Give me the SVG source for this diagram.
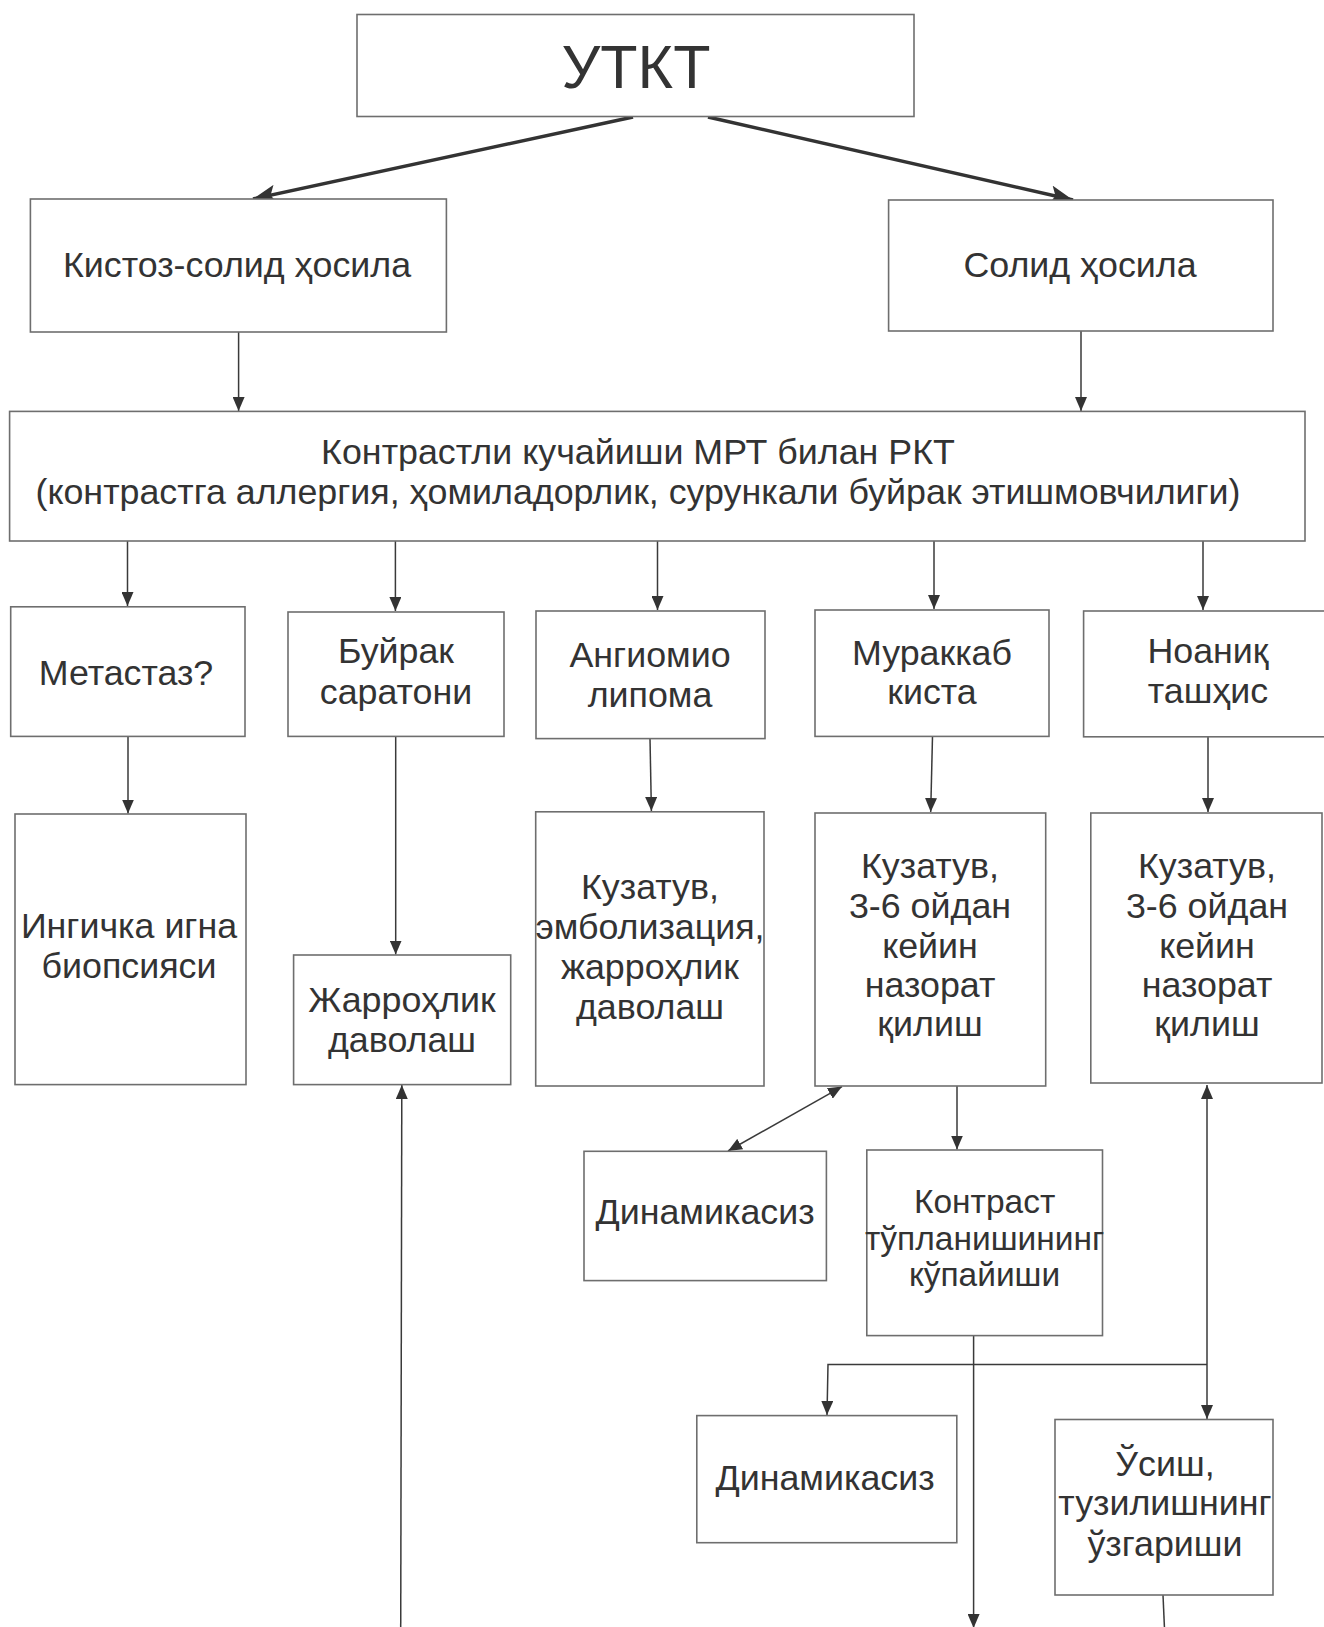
<svg xmlns="http://www.w3.org/2000/svg" width="1324" height="1627" viewBox="0 0 1324 1627">
<style>
.box{fill:#fff;stroke:#6e6e6e;stroke-width:1.6}
.t{font-family:"Liberation Sans",Arial,sans-serif;font-size:35.8px;fill:#333;text-anchor:middle}
.c{fill:none;stroke:#3a3a3a;stroke-width:1.5}
.ct{fill:none;stroke:#333;stroke-width:3.5}
</style>
<defs>
<marker id="a" viewBox="0 0 14 12" refX="14" refY="6" markerWidth="14" markerHeight="12" markerUnits="userSpaceOnUse" orient="auto-start-reverse"><path d="M0,0 L14,6 L0,12 z" fill="#333"/></marker>
<marker id="b" viewBox="0 0 23 19" refX="23" refY="9.5" markerWidth="23" markerHeight="19" markerUnits="userSpaceOnUse" orient="auto"><path d="M0,0 L23,9.5 L0,19 L5,9.5 z" fill="#333"/></marker>
</defs>
<rect width="1324" height="1627" fill="#fff"/>

<g id="connectors">
<line class="ct" x1="633" y1="117" x2="253" y2="199" marker-end="url(#b)"/>
<line class="ct" x1="708" y1="117" x2="1073" y2="200" marker-end="url(#b)"/>
<line class="c" x1="238.6" y1="332" x2="238.6" y2="411" marker-end="url(#a)"/>
<line class="c" x1="1081" y1="331" x2="1081" y2="411" marker-end="url(#a)"/>
<line class="c" x1="127.5" y1="541" x2="127.5" y2="606" marker-end="url(#a)"/>
<line class="c" x1="395.4" y1="541" x2="395.4" y2="611" marker-end="url(#a)"/>
<line class="c" x1="657.5" y1="541" x2="657.5" y2="610" marker-end="url(#a)"/>
<line class="c" x1="934" y1="541" x2="934" y2="609" marker-end="url(#a)"/>
<line class="c" x1="1203" y1="541" x2="1203" y2="610" marker-end="url(#a)"/>
<line class="c" x1="128" y1="736.4" x2="128" y2="813.5" marker-end="url(#a)"/>
<line class="c" x1="395.7" y1="736.4" x2="395.7" y2="954.5" marker-end="url(#a)"/>
<line class="c" x1="650" y1="738.6" x2="651.4" y2="811" marker-end="url(#a)"/>
<line class="c" x1="932.5" y1="736.4" x2="930.7" y2="812" marker-end="url(#a)"/>
<line class="c" x1="1208" y1="737" x2="1208" y2="812" marker-end="url(#a)"/>
<line class="c" x1="842" y1="1086.6" x2="728" y2="1151" marker-start="url(#a)" marker-end="url(#a)"/>
<line class="c" x1="957" y1="1086" x2="957" y2="1149.5" marker-end="url(#a)"/>
<line class="c" x1="973.6" y1="1335.6" x2="973.6" y2="1628" marker-end="url(#a)"/>
<line class="c" x1="1207" y1="1085" x2="1207" y2="1419" marker-start="url(#a)" marker-end="url(#a)"/>
<polyline class="c" points="1207,1364.5 828,1364.5 827,1415" marker-end="url(#a)"/>
<line class="c" x1="1163" y1="1595" x2="1165" y2="1640"/>
<line class="c" x1="400.7" y1="1640" x2="401.8" y2="1085" marker-end="url(#a)"/>
</g>

<g id="n-utkt"><rect class="box" x="357" y="14.5" width="557" height="102"/><text class="t" x="636" y="87.5" style="font-size:61px">УТКТ</text></g>
<g id="n-kistoz"><rect class="box" x="30.4" y="199" width="416" height="133"/><text class="t" x="237" y="277">Кистоз-солид ҳосила</text></g>
<g id="n-solid"><rect class="box" x="888.6" y="200" width="384.4" height="131"/><text class="t" x="1080" y="277">Солид ҳосила</text></g>
<g id="n-mrt"><rect class="box" x="9.6" y="411.4" width="1295.4" height="129.6"/><text class="t" x="638" y="464">Контрастли кучайиши МРТ билан РКТ</text><text class="t" x="638" y="503.6">(контрастга аллергия, ҳомиладорлик, сурункали буйрак этишмовчилиги)</text></g>

<g id="n-metastaz"><rect class="box" x="10.7" y="606.8" width="234.3" height="129.6"/><text class="t" x="126" y="684.6">Метастаз?</text></g>
<g id="n-buyrak"><rect class="box" x="288" y="612" width="216" height="124.4"/><text class="t" x="396" y="663">Буйрак</text><text class="t" x="396" y="703.6">саратони</text></g>
<g id="n-angio"><rect class="box" x="536" y="611" width="229" height="127.6"/><text class="t" x="650" y="666.8">Ангиомио</text><text class="t" x="650" y="706.8">липома</text></g>
<g id="n-murakkab"><rect class="box" x="815" y="610" width="234" height="126.4"/><text class="t" x="932" y="665">Мураккаб</text><text class="t" x="932" y="704">киста</text></g>
<g id="n-noaniq"><rect class="box" x="1083.6" y="611" width="250" height="125.8"/><text class="t" x="1208" y="663">Ноаниқ</text><text class="t" x="1208" y="702.5">ташҳис</text></g>

<g id="n-ingichka"><rect class="box" x="15" y="814" width="231" height="270.6"/><text class="t" x="129" y="937.5">Ингичка игна</text><text class="t" x="129" y="977.5">биопсияси</text></g>
<g id="n-jarrohlik"><rect class="box" x="293.6" y="955" width="217.1" height="129.6"/><text class="t" x="402" y="1012">Жарроҳлик</text><text class="t" x="402" y="1052">даволаш</text></g>
<g id="n-kuzatuv1"><rect class="box" x="535.7" y="811.8" width="228.3" height="274.2"/><text class="t" x="650" y="899">Кузатув,</text><text class="t" x="650" y="939">эмболизация,</text><text class="t" x="650" y="978.6">жарроҳлик</text><text class="t" x="650" y="1018.6">даволаш</text></g>
<g id="n-kuzatuv2"><rect class="box" x="815" y="813" width="230.7" height="273"/><text class="t" x="930" y="877.5">Кузатув,</text><text class="t" x="930" y="918">3-6 ойдан</text><text class="t" x="930" y="958">кейин</text><text class="t" x="930" y="997">назорат</text><text class="t" x="930" y="1036">қилиш</text></g>
<g id="n-kuzatuv3"><rect class="box" x="1090.8" y="813" width="231.2" height="270"/><text class="t" x="1207" y="877.5">Кузатув,</text><text class="t" x="1207" y="918">3-6 ойдан</text><text class="t" x="1207" y="958">кейин</text><text class="t" x="1207" y="997">назорат</text><text class="t" x="1207" y="1036">қилиш</text></g>

<g id="n-dinamikasiz1"><rect class="box" x="584" y="1151.3" width="242.4" height="129.3"/><text class="t" x="705" y="1224">Динамикасиз</text></g>
<g id="n-kontrast"><rect class="box" x="866.8" y="1150" width="235.7" height="185.6"/><text class="t" x="984.6" y="1213.4" style="font-size:33.5px">Контраст</text><text class="t" x="984.6" y="1250" style="font-size:33.5px">тўпланишининг</text><text class="t" x="984.6" y="1285.6" style="font-size:33.5px">кўпайиши</text></g>
<g id="n-dinamikasiz2"><rect class="box" x="696.8" y="1415.6" width="260" height="127.1"/><text class="t" x="825" y="1490">Динамикасиз</text></g>
<g id="n-osish"><rect class="box" x="1055" y="1419.5" width="218" height="175.5"/><text class="t" x="1165" y="1476">Ўсиш,</text><text class="t" x="1165" y="1515">тузилишнинг</text><text class="t" x="1165" y="1555.6">ўзгариши</text></g>
</svg>
